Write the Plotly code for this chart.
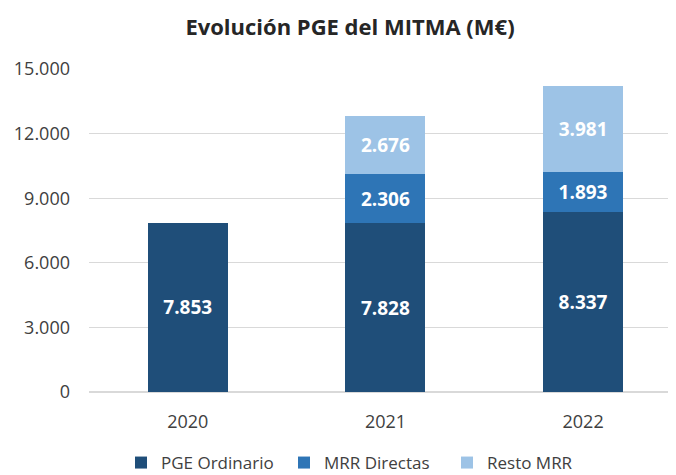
import plotly.graph_objects as go

# Data (M€)
years = ["2020", "2021", "2022"]
pge_ordinario = [7853, 7828, 8337]
mrr_directas = [None, 2306, 1893]
resto_mrr = [None, 2676, 3981]

series = [
    ("PGE Ordinario", pge_ordinario, "#1F4E79"),
    ("MRR Directas", mrr_directas, "#2E75B6"),
    ("Resto MRR", resto_mrr, "#9DC3E6"),
]

# the page body has an 8px margin, so the figure is laid out 8px up/left
OFF = 8

fig = go.Figure()
for name, vals, color in series:
    fig.add_trace(go.Bar(
        x=years,
        y=vals,
        name=name,
        marker=dict(color=color, line=dict(width=0)),
        width=0.405,
        texttemplate="%{y:,}",
        textposition="inside",
        insidetextanchor="middle",
        textangle=0,
        textfont=dict(family="Open Sans", size=19, color="white", weight="bold"),
        constraintext="none",
    ))

fig.update_layout(
    barmode="stack",
    separators=",.",
    width=676,
    height=475,
    margin=dict(l=89 - OFF, r=OFF, t=69 - OFF, b=83 + OFF, autoexpand=False),
    paper_bgcolor="white",
    plot_bgcolor="white",
    font=dict(family="Open Sans", color="#404040"),
    title=dict(
        text="<b>Evolución PGE del MITMA (M€)</b>",
        x=(350 - OFF) / 676,
        xanchor="center",
        y=1 - (27 - OFF) / 475,
        yanchor="middle",
        font=dict(size=22, color="#262626"),
    ),
    legend=dict(
        orientation="h",
        xref="container",
        yref="container",
        x=(121 - OFF) / 676,
        xanchor="left",
        y=1 - (463 - OFF) / 475,
        yanchor="middle",
        font=dict(size=17, color="#404040"),
        itemwidth=30,
        entrywidth=118,
        traceorder="normal",
    ),
    showlegend=True,
)

fig.update_xaxes(
    range=[-0.5, 2.47],
    automargin=False,
    showgrid=False,
    showline=False,
    ticks="",
    ticklabelstandoff=17,
    tickfont=dict(size=18, color="#404040"),
)
fig.update_yaxes(
    range=[0, 15000],
    automargin=False,
    tickvals=[0, 3000, 6000, 9000, 12000, 15000],
    tickformat=",",
    showgrid=True,
    gridcolor="#D9D9D9",
    gridwidth=1,
    zeroline=True,
    zerolinecolor="#D9D9D9",
    ticks="",
    ticklabelstandoff=18,
    tickfont=dict(size=18, color="#404040"),
)

fig.write_html("out.html")
